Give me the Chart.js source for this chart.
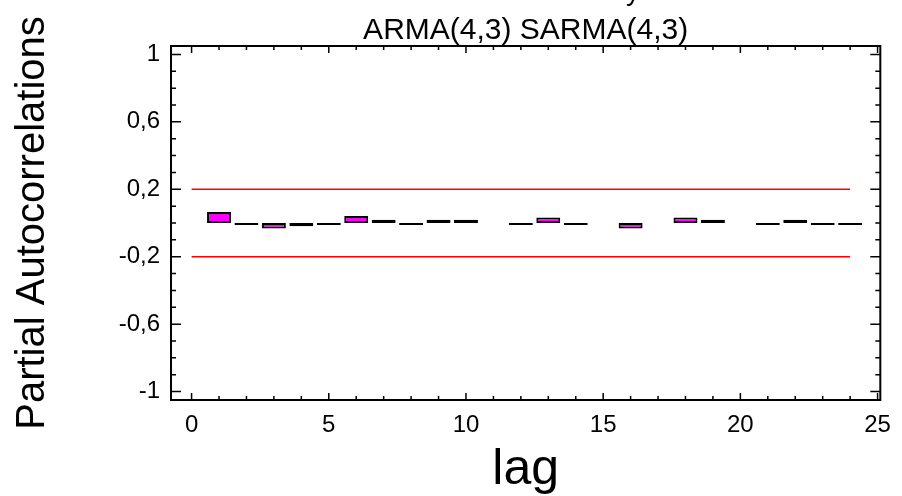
<!DOCTYPE html>
<html>
<head>
<meta charset="utf-8">
<script src="https://cdn.jsdelivr.net/npm/chart.js@4.4.1/dist/chart.umd.min.js"></script>
<style>
  html, body { margin: 0; padding: 0; background: #fff; }
  #wrap { width: 902px; height: 496px; }
</style>
</head>
<body>
<div id="wrap"><canvas id="chart"></canvas></div>
<script>
// data
const lags = [1, 2, 3, 4, 5, 6, 7, 8, 9, 10, 11, 12, 13, 14, 15, 16, 17, 18, 19, 20, 21, 22, 23, 24];
const pacf = [0.065, -0.012, -0.032, -0.02, -0.012, 0.042, 0.02, -0.012, 0.02, 0.02, 0, -0.012,
              0.032, -0.012, 0, -0.033, 0, 0.032, 0.02, 0, -0.012, 0.02, -0.012, -0.012];
const limitLags = [0, 24];
const upperLimit = [0.2, 0.2];
const lowerLimit = [-0.2, -0.2];
const xTickValues = [0, 5, 10, 15, 20, 25];
const yTickValues = [-1, -0.6, -0.2, 0.2, 0.6, 1];

Chart.defaults.font.family = "'Liberation Sans', Arial, sans-serif";
Chart.defaults.color = '#000';

const toPoints = (xs, ys) => xs.map((x, i) => ({ x: x, y: ys[i] }));

// box frame with inward ticks on all four sides
const frameTicks = {
  id: 'frameTicks',
  afterDraw(chart) {
    const { ctx, chartArea: a, scales: { x, y } } = chart;
    ctx.save();
    ctx.strokeStyle = '#000';
    ctx.lineWidth = 2;
    ctx.strokeRect(a.left, a.top, a.right - a.left, a.bottom - a.top);
    ctx.lineWidth = 1.5;
    ctx.beginPath();
    for (let v = 0; v <= 25; v++) {
      const px = x.getPixelForValue(v);
      const len = v % 5 === 0 ? 7 : 4;
      ctx.moveTo(px, a.bottom); ctx.lineTo(px, a.bottom - len);
      ctx.moveTo(px, a.top); ctx.lineTo(px, a.top + len);
    }
    for (let i = -10; i <= 10; i++) {
      const py = y.getPixelForValue(i / 10);
      const len = (i + 10) % 4 === 0 ? 10 : 5;
      ctx.moveTo(a.left, py); ctx.lineTo(a.left + len, py);
      ctx.moveTo(a.right, py); ctx.lineTo(a.right - len, py);
    }
    ctx.stroke();
    ctx.restore();
  }
};

// main title is cut off by the top edge in the reference
const cutTitle = {
  id: 'cutTitle',
  afterDraw(chart) {
    const { ctx } = chart;
    ctx.save();
    ctx.font = "28px 'Liberation Sans', Arial, sans-serif";
    ctx.fillStyle = '#000';
    ctx.textAlign = 'right';
    ctx.textBaseline = 'alphabetic';
    ctx.fillText('Residual Partial Autocorrelations for y', 640, 0);
    ctx.restore();
  }
};

new Chart(document.getElementById('chart'), {
  type: 'bar',
  data: {
    datasets: [
      {
        label: 'PACF',
        data: toPoints(lags, pacf),
        backgroundColor: '#ff00ff',
        borderColor: '#000',
        borderWidth: 2,
        borderSkipped: false,
        barPercentage: 0.97,
        categoryPercentage: 0.9,
        order: 1
      },
      {
        type: 'line',
        label: 'upper',
        data: toPoints(limitLags, upperLimit),
        borderColor: '#ff0000',
        borderWidth: 1.5,
        pointRadius: 0,
        fill: false,
        order: 2
      },
      {
        type: 'line',
        label: 'lower',
        data: toPoints(limitLags, lowerLimit),
        borderColor: '#ff0000',
        borderWidth: 1.5,
        pointRadius: 0,
        fill: false,
        order: 2
      }
    ]
  },
  options: {
    responsive: true,
    maintainAspectRatio: false,
    animation: false,
    layout: { padding: { left: 0, right: 20, top: 0, bottom: 0 } },
    plugins: {
      legend: { display: false },
      tooltip: { enabled: false },
      title: {
        display: true,
        text: 'ARMA(4,3) SARMA(4,3)',
        fullSize: false,
        font: { size: 30, weight: 'normal' },
        color: '#000',
        padding: { top: 13, bottom: -3 }
      }
    },
    scales: {
      x: {
        type: 'linear',
        min: -0.75,
        max: 25.1,
        offset: false,
        bounds: 'ticks',
        afterBuildTicks: s => { s.ticks = xTickValues.map(v => ({ value: v })); },
        afterFit: s => { s.height = 96; },
        grid: { display: false, drawTicks: false, offset: false },
        border: { display: false },
        ticks: { font: { size: 24 }, color: '#000', padding: 11, maxRotation: 0 },
        title: { display: true, text: 'lag', font: { size: 50 }, color: '#000', padding: { top: 0, bottom: -4 } }
      },
      y: {
        min: -1.05,
        max: 1.05,
        afterBuildTicks: s => { s.ticks = yTickValues.map(v => ({ value: v })); },
        afterFit: s => { s.width = 171; },
        grid: { display: false, drawTicks: false },
        border: { display: false },
        ticks: {
          font: { size: 24 },
          color: '#000',
          padding: 11,
          callback: v => String(v).replace('.', ',')
        },
        title: { display: true, text: 'Partial Autocorrelations', font: { size: 40 }, color: '#000', padding: { top: 9, bottom: 0 } }
      }
    }
  },
  plugins: [frameTicks, cutTitle]
});
</script>
</body>
</html>
